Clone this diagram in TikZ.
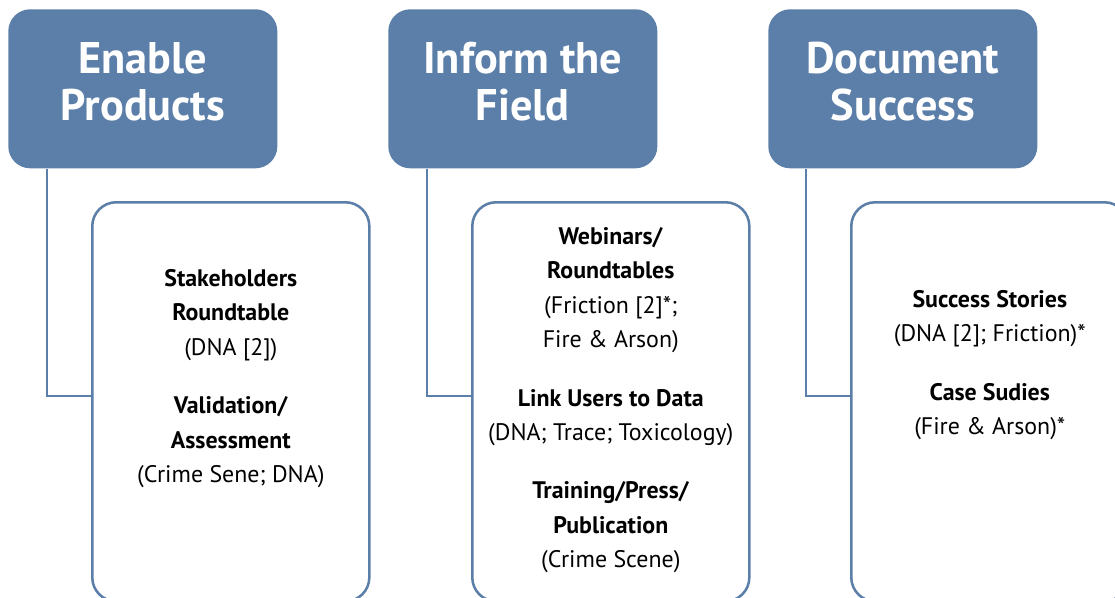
\documentclass[tikz,border=0pt]{standalone}
\usepackage{fontspec}
\setmainfont{PT Sans}
\usetikzlibrary{positioning}
\definecolor{steel}{RGB}{92,127,169}
\tikzset{
	head_box/.style = {
		rectangle,
		rounded corners=0.55cm,
		fill=steel,
		inner sep=0pt,
		anchor=north west,
		minimum width=6.725cm,
		minimum height=3.975cm
	},
	head_text/.style = {
		align=center,
		inner sep=0pt,
		anchor=north,
		text=white,
		font=\fontsize{31.5}{33.3}\selectfont\bfseries
	},
	item_box/.style = {
		rectangle,
		rounded corners=0.6cm,
		draw=steel,
		line width=1.8pt,
		fill=white,
		inner sep=0pt,
		anchor=north west,
		minimum width=6.925cm,
		minimum height=9.975cm
	},
	item_text/.style = {
		align=center,
		inner sep=0pt,
		anchor=north,
		font=\fontsize{17}{24.5}\selectfont
	},
	link_line/.style = {
		draw=steel,
		line width=1.8pt
	},
}

\begin{document}
\begin{tikzpicture}[x=0.025cm, y=-0.025cm]
\useasboundingbox (0,0) rectangle (1115,597);
\clip (0,0) rectangle (1115,597);
% column headers
\node [head_box] (enable_head) at (8,9) {};
\node [head_box] (inform_head) at (388,9) {};
\node [head_box] (document_head) at (768,9) {};
\node [head_text] (enable_title) at (enable_head.north |- 0,42) {Enable\\Products};
\node [head_text] (inform_title) at (inform_head.north |- 0,42) {Inform the\\Field};
\node [head_text] (document_title) at (document_head.north |- 0,42) {Document\\Success};
% boxes below
\node [item_box] (enable_box) at (91,201) {};
\node [item_box] (inform_box) at (471,201) {};
\node [item_box] (document_box) at (850,201) {};
% links
\draw [link_line] ([xshift=0.975cm]enable_head.south west) |- ([yshift=0.14cm]enable_box.west);
\draw [link_line] ([xshift=0.975cm]inform_head.south west) |- ([yshift=0.14cm]inform_box.west);
\draw [link_line] ([xshift=0.95cm]document_head.south west) |- ([yshift=0.14cm]document_box.west);
% box texts
\node [item_text] (enable_text) at (enable_box.north |- 0,269) {
	\textbf{Stakeholders}\\
	\textbf{Roundtable}\\
	(DNA [2])\\[17pt]
	\textbf{Validation/}\\
	\textbf{Assessment}\\
	(Crime Sene; DNA)
};
\node [item_text] (inform_text) at (inform_box.north |- 0,227) {
	\textbf{Webinars/}\\
	\textbf{Roundtables}\\
	(Friction [2]*;\\
	Fire \& Arson)\\[17pt]
	\textbf{Link Users to Data}\\
	(DNA; Trace; Toxicology)\\[17pt]
	\textbf{Training/Press/}\\
	\textbf{Publication}\\
	(Crime Scene)
};
\node [item_text] (document_text) at (document_box.north |- 0,290) {
	\textbf{Success Stories}\\
	(DNA [2]; Friction)*\\[17pt]
	\textbf{Case Sudies}\\
	(Fire \& Arson)*
};
\end{tikzpicture}
\end{document}
